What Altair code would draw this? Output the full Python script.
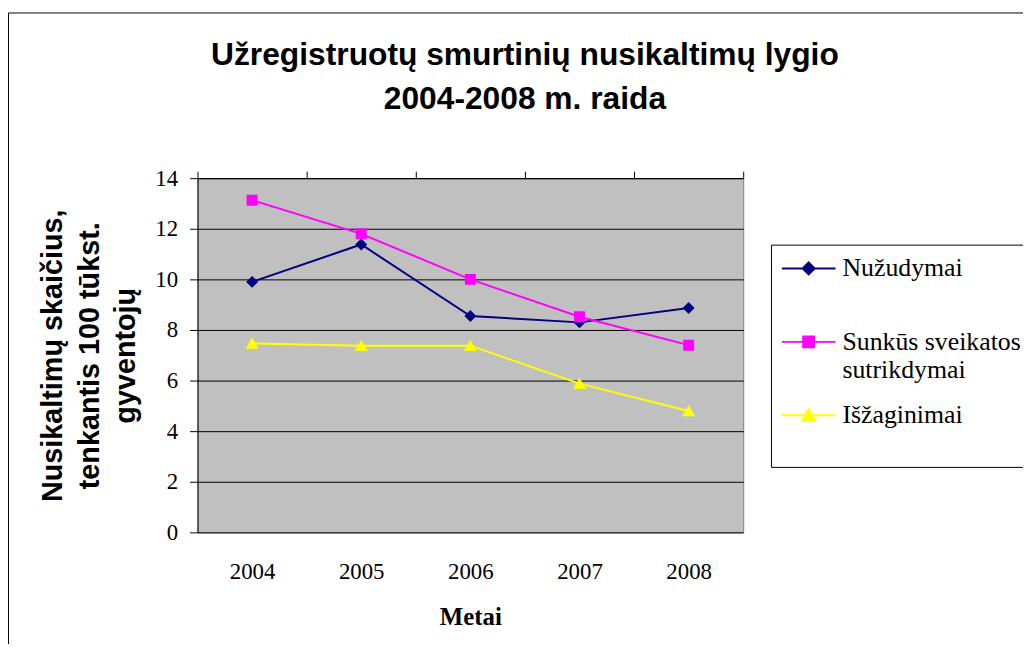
import json
import altair as alt
import pandas as pd

# ---------------- data ----------------
years = [2004, 2005, 2006, 2007, 2008]
series_names = ["Nužudymai", "Sunkūs sveikatos sutrikdymai", "Išžaginimai"]
nuzudymai = [9.9, 11.38, 8.55, 8.3, 8.87]
sunkus = [13.13, 11.8, 10.0, 8.52, 7.4]
isz = [7.47, 7.38, 7.38, 5.88, 4.8]
series_values = [nuzudymai, sunkus, isz]
colors = ["#000080", "#FF00FF", "#FFFF00"]

title_lines = ["Užregistruotų smurtinių nusikaltimų lygio", "2004-2008 m. raida"]
y_title_lines = ["Nusikaltimų skaičius,", "tenkantis 100 tūkst.", "gyventojų"]
x_title = "Metai"
y_ticks = [0, 2, 4, 6, 8, 10, 12, 14]
legend_label_lines = {"Sunkūs sveikatos sutrikdymai": ["Sunkūs sveikatos", "sutrikdymai"]}

SERIF = "Times New Roman, Liberation Serif, serif"
SANS = "Arial, Liberation Sans, sans-serif"

# symbols: marker in unit size + a long line segment (visible only when stroked, i.e. in the legend)
LINE = "M-4.5,0H4.5"
shapes = [
    LINE + "M-1,0L0,-1L1,0L0,1Z",                 # diamond
    LINE + "M-0.92,-0.92H0.92V0.92H-0.92Z",       # square
    LINE + "M0,-1L1.1,0.9L-1.1,0.9Z",             # triangle
]
SYM_SIZE = 144

rows = []
for name, vals in zip(series_names, series_values):
    for yr, v in zip(years, vals):
        rows.append({"Metai": yr, "Serija": name, "Reiksme": v})
df = pd.DataFrame(rows)

boundaries = [years[0] - 0.5] + [y + 0.5 for y in years]

# ---------------- scales / axes ----------------
x_scale = alt.Scale(domain=[boundaries[0], boundaries[-1]], nice=False, zero=False)
y_scale = alt.Scale(domain=[y_ticks[0], y_ticks[-1]], nice=False)
color_scale = alt.Scale(domain=series_names, range=colors)
shape_scale = alt.Scale(domain=series_names, range=shapes)

y_axis = alt.Axis(
    values=y_ticks, grid=True, gridColor="black", gridWidth=1, gridOpacity=1,
    tickSize=8, tickColor="black", domainColor="black",
    labelFont=SERIF, labelFontSize=23, labelColor="black", labelPadding=12,
    title=y_title_lines, titleFont=SANS, titleFontSize=29,
    titleFontWeight="bold", titleColor="black", titleLineHeight=37, titlePadding=14,
)
y_enc = alt.Y("Reiksme:Q", scale=y_scale, axis=y_axis)

x_axis_labels = alt.Axis(
    values=years, format="d", ticks=False, tickSize=0, domain=False, grid=False,
    labelFont=SERIF, labelFontSize=23, labelColor="black",
    labelPadding=28, labelFlush=False,
    title=x_title, titleFont=SERIF, titleFontSize=25,
    titleFontWeight="bold", titleColor="black", titlePadding=22,
)
x_axis_ticks = alt.Axis(
    values=boundaries, labels=False, ticks=True, tickSize=7, tickColor="black",
    domain=True, domainColor="black", grid=False, title=None,
)

label_expr = " : ".join(
    f"datum.label == {json.dumps(k, ensure_ascii=False)} ? {json.dumps(v, ensure_ascii=False)}"
    for k, v in legend_label_lines.items()
) + " : [datum.label, '']"

legend = alt.Legend(
    orient="none", legendX=578, legendY=67, title=None,
    strokeColor="black", fillColor="white", padding=11,
    labelFont=SERIF, labelFontSize=26, labelColor="black",
    labelLimit=600, labelOffset=21, symbolOffset=14,
    symbolSize=SYM_SIZE, symbolStrokeWidth=2,
    rowPadding=20, labelExpr=label_expr,
)

# ---------------- layers ----------------
frame = alt.Chart(pd.DataFrame({"f": [0]})).mark_rect(
    fill=None, stroke="black", strokeWidth=1
).encode(
    x=alt.value(-190.5), x2=alt.value(900), y=alt.value(-166.5), y2=alt.value(700)
)

lines = alt.Chart(df).mark_line(strokeWidth=2).encode(
    x=alt.X("Metai:Q", scale=x_scale, axis=x_axis_labels),
    y=y_enc,
    color=alt.Color("Serija:N", scale=color_scale, legend=None),
)

points = alt.Chart(df).mark_point(filled=True, size=SYM_SIZE, opacity=1, strokeWidth=0).encode(
    x=alt.X("Metai:Q", scale=x_scale, axis=x_axis_ticks),
    y=y_enc,
    color=alt.Color("Serija:N", scale=color_scale, legend=None),
    shape=alt.Shape("Serija:N", scale=shape_scale, legend=None),
)

# legend-only layer, kept outside the visible canvas
legend_layer = alt.Chart(df).mark_point(filled=True, size=SYM_SIZE, opacity=1, strokeWidth=2).encode(
    x=alt.value(-5000), y=alt.value(100),
    color=alt.Color("Serija:N", scale=color_scale, legend=legend),
    stroke=alt.Stroke("Serija:N", scale=color_scale, legend=legend),
    shape=alt.Shape("Serija:N", scale=shape_scale, legend=legend),
)

chart = alt.layer(frame, lines, points, legend_layer).resolve_axis(
    x="independent"
).resolve_legend(
    color="independent", shape="independent", stroke="independent"
).properties(
    width=550, height=357,
    autosize=alt.AutoSizeParams(type="none"),
    padding={"left": 191, "top": 169, "right": 282, "bottom": 110},
    background="white",
    title=alt.TitleParams(
        text=title_lines, font=SANS, fontSize=32, fontWeight="bold",
        color="black", lineHeight=44, anchor="middle", dx=55, offset=-104,
    ),
).configure_view(
    fill="#C0C0C0", stroke="#808080", strokeWidth=1
).configure_axis(
    labelFont=SERIF, labelFontSize=23, labelColor="black"
)

chart.save("out.html", embed_options={"renderer": "svg", "actions": False})
